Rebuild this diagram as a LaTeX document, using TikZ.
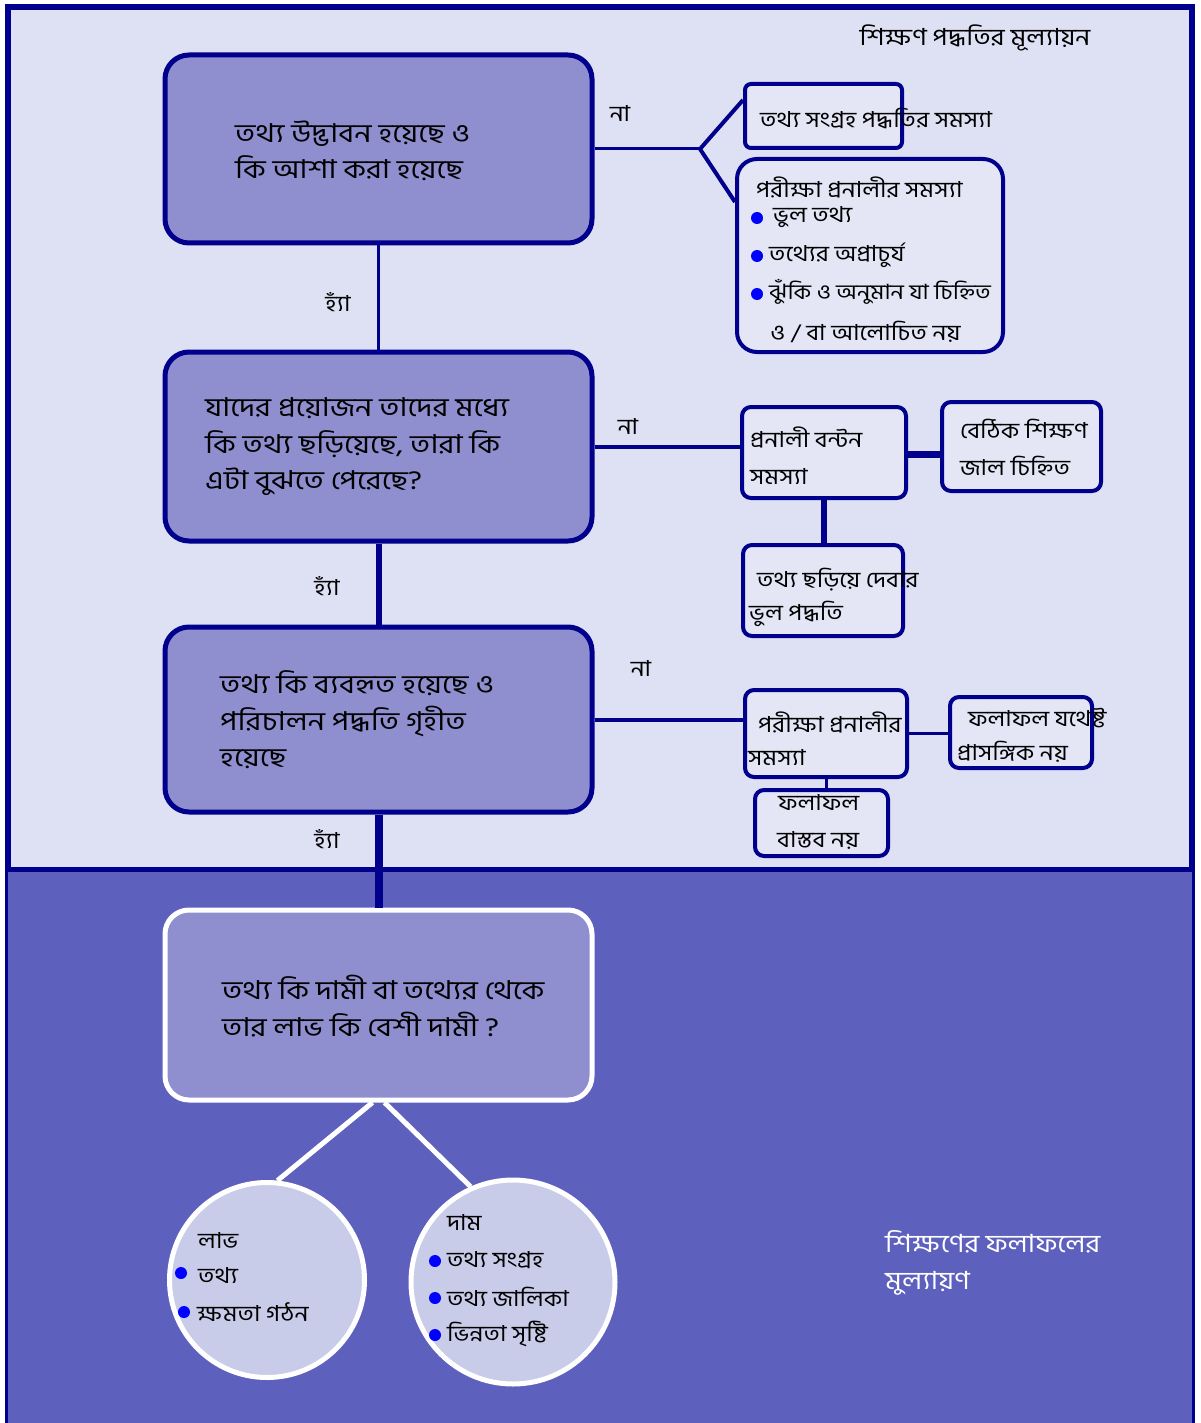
\documentclass[tikz,border=0pt]{standalone}
\usepackage{fontspec}
\newfontfamily\bn[Script=Bengali, FakeStretch=1.12]{Hind Siliguri}
\newfontfamily\bnm[Script=Bengali, FakeStretch=1.17]{Hind Siliguri}
\usetikzlibrary{calc}
\definecolor{navy}{RGB}{0,0,140}
\definecolor{topbg}{RGB}{222,224,243}
\definecolor{mainfill}{RGB}{143,143,208}
\definecolor{botbg}{RGB}{94,96,190}
\definecolor{circfill}{RGB}{200,204,232}
\definecolor{boxfill}{RGB}{228,230,246}
\definecolor{dotblue}{RGB}{0,0,255}
\tikzset{
  mainbox/.style={rectangle, rounded corners=24pt, draw=navy, line width=5pt, fill=mainfill, inner sep=0pt},
  smallbox/.style={rectangle, rounded corners=9pt, draw=navy, line width=4pt, fill=boxfill, inner sep=0pt},
  circbox/.style={circle, draw=white, line width=5pt, fill=circfill, inner sep=0pt},
  maintxt/.style={anchor=west, inner sep=0pt, align=left, font=\bnm\fontsize{26}{36.5}\selectfont},
  smalltxt/.style={anchor=west, inner sep=0pt, align=left, font=\bn\fontsize{22}{37}\selectfont},
  lbl/.style={inner sep=0pt, font=\bn\fontsize{22}{26}\selectfont},
  bullet/.style={circle, fill=dotblue, inner sep=0pt, minimum size=12pt},
  conn/.style={draw=navy, line cap=butt},
}
\begin{document}
\begin{tikzpicture}[x=1pt,y=-1pt]
\useasboundingbox (0,0) rectangle (1200,1423);
\fill[white] (0,0) rectangle (1200,1423);
% panels
\path[fill=topbg, draw=navy, line width=6pt] (8,7) rectangle (1192,870);
\path[fill=botbg, draw=navy, line width=3pt] (6,870) rectangle (1193,1425);

% main boxes
\node[mainbox, minimum width=427pt, minimum height=188pt] (b1) at (378.5,149) {};
\node[mainbox, minimum width=427pt, minimum height=189pt] (b2) at (378.5,446.5) {};
\node[mainbox, minimum width=427pt, minimum height=185pt] (b3) at (378.5,719.5) {};
\node[mainbox, draw=white, minimum width=427pt, minimum height=190pt] (b4) at (378.5,1005) {};

% small boxes
\node[smallbox, rounded corners=6pt, minimum width=157pt, minimum height=64pt] (r1a) at (823.5,116) {};
\node[smallbox, rounded corners=20pt, minimum width=266pt, minimum height=193pt] (r1b) at (870,255.5) {};
\node[smallbox, minimum width=164pt, minimum height=91pt] (r2a) at (824,452.5) {};
\node[smallbox, minimum width=159pt, minimum height=89pt] (r2b) at (1021.5,446.5) {};
\node[smallbox, minimum width=160pt, minimum height=91pt] (r2c) at (823,590.5) {};
\node[smallbox, minimum width=162pt, minimum height=87pt] (r3a) at (826,733.5) {};
\node[smallbox, minimum width=142pt, minimum height=71pt] (r3b) at (1021,732.5) {};
\node[smallbox, minimum width=133pt, minimum height=66pt] (r3c) at (821.5,823) {};

% circles
\node[circbox, minimum size=195pt] (c1) at (267,1280) {};
\node[circbox, minimum size=204pt] (c2) at (513,1282) {};

% connectors
\coordinate (br1) at (700,149);
\draw[conn, line width=3pt] (b1.south) -- (b2.north);
\draw[conn, line width=6pt] (b2.south) -- (b3.north);
\draw[conn, line width=8pt] (b3.south) -- (b4.north);
\draw[conn, line width=3pt] (b1.east) -- (br1);
\draw[conn, line width=4pt, line join=miter] ([yshift=16pt]r1a.west) -- (br1) -- ([yshift=-45pt]r1b.north west);
\draw[conn, line width=4pt] (b2.east) -- (b2.east -| r2a.west);
\draw[conn, line width=7pt] ([yshift=-2pt]r2a.east) -- ([yshift=-2pt]r2a.east -| r2b.west);
\draw[conn, line width=6pt] (r2a.south) -- (r2c.north -| r2a.south);
\draw[conn, line width=4pt] (b3.east) -- (b3.east -| r3a.west);
\draw[conn, line width=3pt] (r3a.east) -- (r3a.east -| r3b.west);
\draw[conn, line width=3pt] (r3a.south) -- (r3a.south |- r3c.north);
\draw[white, line width=5pt] ([xshift=-6pt]b4.south) -- (c1.84);
\draw[white, line width=5pt] ([xshift=6pt]b4.south) -- (c2.114);

% labels
\node[lbl] (no1) at (620,114) {না};
\node[lbl] (no2) at (628,427) {না};
\node[lbl] (no3) at (641,669) {না};
\node[lbl] (yes1) at (338,302) {হ্যাঁ};
\node[lbl] (yes2) at (327,586) {হ্যাঁ};
\node[lbl] (yes3) at (327,839) {হ্যাঁ};
\node[lbl, anchor=center, font=\bn\fontsize{23.5}{26}\selectfont] (title) at (975,38) {শিক্ষণ পদ্ধতির মূল্যায়ন};

% main texts
\node[maintxt] (t1) at (235,151) {তথ্য উদ্ভাবন হয়েছে ও\\কি আশা করা হয়েছে};
\node[maintxt] (t2) at (205,447) {যাদের প্রয়োজন তাদের মধ্যে\\কি তথ্য ছড়িয়েছে, তারা কি\\এটা বুঝতে পেরেছে?};
\node[maintxt] (t3) at (220,720) {তথ্য কি ব্যবহৃত হয়েছে ও\\পরিচালন পদ্ধতি গৃহীত\\হয়েছে};
\node[maintxt] (t4) at (222,1006) {তথ্য কি দামী বা তথ্যের থেকে\\তার লাভ কি বেশী দামী ?};

% right texts
\node[smalltxt] (r1at) at (760,118) {তথ্য সংগ্রহ পদ্ধতির সমস্যা};
\node[smalltxt] (r1bt) at (756,187) {পরীক্ষা প্রনালীর সমস্যা};
\node[bullet] (d1) at (757,218) {};
\node[bullet] (d2) at (757,256) {};
\node[bullet] (d3) at (757,294) {};
\node[smalltxt] (r1b1) at (773,217) {ভুল তথ্য};
\node[smalltxt] (r1b2) at (769,255) {তথ্যের অপ্রাচুর্য};
\node[smalltxt, font=\bn\fontsize{21}{37}\selectfont] (r1b3) at (769,292) {ঝুঁকি ও অনুমান যা চিহ্নিত};
\node[smalltxt] (r1b4) at (770,332) {ও / বা আলোচিত নয়};
\node[smalltxt] (r2at) at (750,456) {প্রনালী বন্টন\\সমস্যা};
\node[smalltxt] (r2bt) at (960,447) {বেঠিক শিক্ষণ\\জাল চিহ্নিত};
\node[smalltxt] (r2ct1) at (757,580) {তথ্য ছড়িয়ে দেবার};
\node[smalltxt] (r2ct2) at (749,614) {ভুল পদ্ধতি};
\node[smalltxt] (r3at1) at (758,722) {পরীক্ষা প্রনালীর};
\node[smalltxt] (r3at2) at (748,758) {সমস্যা};
\node[smalltxt] (r3bt1) at (968,718) {ফলাফল যথেষ্ট};
\node[smalltxt] (r3bt2) at (957,752) {প্রাসঙ্গিক নয়};
\node[smalltxt] (r3ct1) at (778,803) {ফলাফল};
\node[smalltxt] (r3ct2) at (777,840) {বাস্তব নয়};

% circle texts
\node[smalltxt] (c1t0) at (198,1240) {লাভ};
\node[bullet] (e1) at (181,1273) {};
\node[smalltxt] (c1t1) at (198,1275) {তথ্য};
\node[bullet] (e2) at (184,1312) {};
\node[smalltxt] (c1t2) at (197,1312) {ক্ষমতা গঠন};
\node[smalltxt] (c2t0) at (447,1222) {দাম};
\node[bullet] (f1) at (435,1261) {};
\node[smalltxt] (c2t1) at (447,1260) {তথ্য সংগ্রহ};
\node[bullet] (f2) at (435,1298) {};
\node[smalltxt] (c2t2) at (447,1297) {তথ্য জালিকা};
\node[bullet] (f3) at (435,1335) {};
\node[smalltxt] (c2t3) at (447,1334) {ভিন্নতা সৃষ্টি};

% bottom right label
\node[smalltxt, text=white, font=\bn\fontsize{25}{37}\selectfont] (eval) at (885,1263) {শিক্ষণের ফলাফলের\\মুল্যায়ণ};
\end{tikzpicture}
\end{document}
